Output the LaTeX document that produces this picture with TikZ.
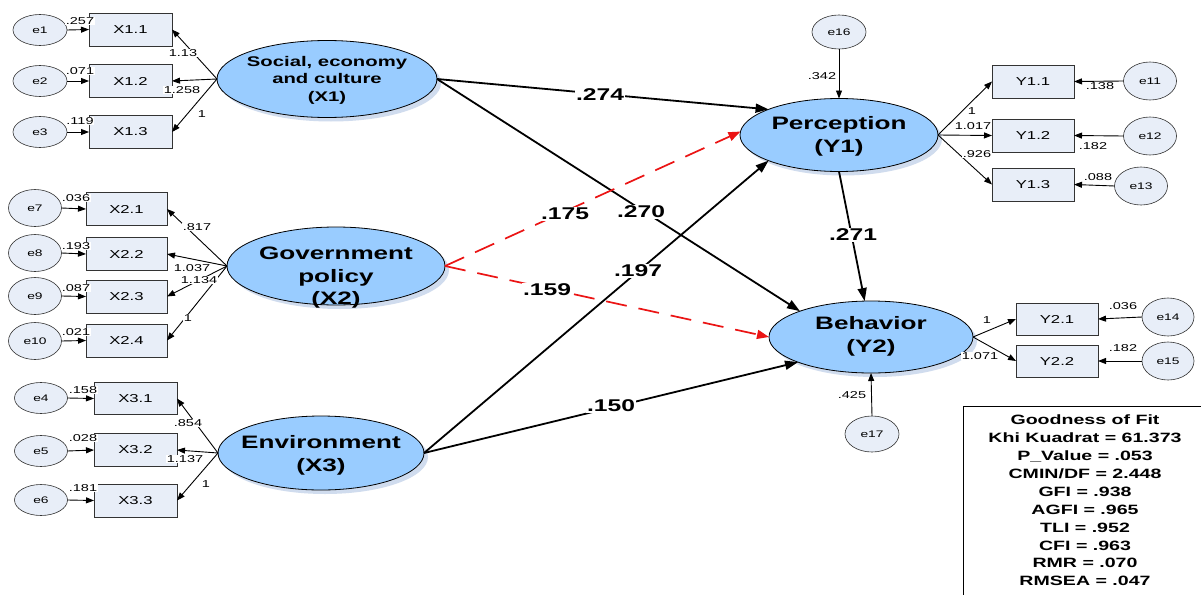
\documentclass[tikz,border=0pt]{standalone}
\usepackage{fontspec}
\setmainfont[FakeStretch=1.45]{Liberation Sans}
\usetikzlibrary{arrows.meta,shapes.geometric,shadows}
\definecolor{latfill}{RGB}{153,204,255}
\definecolor{obsfill}{RGB}{232,238,248}
\definecolor{shadowc}{RGB}{208,220,238}
\definecolor{dashred}{RGB}{235,20,20}
\tikzset{
  lat/.style={ellipse, draw=black, line width=0.8pt, fill=latfill, inner sep=0pt, outer sep=0pt,
    drop shadow={shadow xshift=4pt, shadow yshift=-4pt, fill=shadowc, opacity=1}},
  lattext/.style={align=center, inner sep=0pt, font={\fontsize{18}{23}\selectfont\bfseries}},
  obs/.style={rectangle, draw=black!80, line width=0.7pt, fill=obsfill, inner sep=0pt, outer sep=0pt,
    font={\fontsize{11.5}{13}\selectfont}},
  err/.style={ellipse, draw=black!80, line width=0.6pt, fill=obsfill, inner sep=0pt, outer sep=0pt,
    font={\fontsize{9.5}{11}\selectfont}},
  load/.style={line width=0.9pt, -{Triangle[length=8pt,width=6pt]}},
  struct/.style={line width=1.8pt, -{Triangle[length=13pt,width=9pt]}},
  dpath/.style={line width=1.7pt, draw=dashred, dash pattern=on 21pt off 12pt, -{Triangle[length=12pt,width=9pt,fill=dashred]}},
  small/.style={fill=white, inner sep=0.6pt, font={\fontsize{10}{11}\selectfont}},
  big/.style={fill=white, inner sep=1pt, font={\fontsize{17}{19}\selectfont\bfseries}},
}
\begin{document}
\begin{tikzpicture}[x=1pt,y=-1pt]
\clip (0,0) rectangle (1201,594);
\fill[white] (0,0) rectangle (1201,594);

% ---------- latent variables ----------
\node[lat, minimum width=220pt, minimum height=77pt] (X1) at (327,79) {};
\node[lattext, font={\fontsize{14}{17.5}\selectfont\bfseries}] (X1t) at (327,80) {Social, economy\\and culture\\(X1)};
\node[lat, minimum width=218pt, minimum height=78pt] (X2) at (336,266) {};
\node[lattext, font={\fontsize{18}{22.5}\selectfont\bfseries}] (X2t) at (336,278) {Government\\policy\\(X2)};
\node[lat, minimum width=206pt, minimum height=74pt] (X3) at (321,453) {};
\node[lattext] (X3t) at (321,455) {Environment\\(X3)};
\node[lat, minimum width=198pt, minimum height=73pt] (Y1) at (839,135) {};
\node[lattext] (Y1t) at (839,136) {Perception\\(Y1)};
\node[lat, minimum width=204pt, minimum height=72pt] (Y2) at (871,337) {};
\node[lattext] (Y2t) at (871,336) {Behavior\\(Y2)};

% ---------- observed variables ----------
\node[obs, minimum width=83pt, minimum height=33pt] (X11) at (130.5,29.5) {X1.1};
\node[obs, minimum width=83pt, minimum height=33pt] (X12) at (130.5,81) {X1.2};
\node[obs, minimum width=83pt, minimum height=33pt] (X13) at (130.5,132) {X1.3};
\node[obs, minimum width=81pt, minimum height=33pt] (X21) at (126.5,209) {X2.1};
\node[obs, minimum width=81pt, minimum height=33pt] (X22) at (126.5,254) {X2.2};
\node[obs, minimum width=81pt, minimum height=33pt] (X23) at (126.5,296.5) {X2.3};
\node[obs, minimum width=81pt, minimum height=33pt] (X24) at (126.5,340.5) {X2.4};
\node[obs, minimum width=83pt, minimum height=32pt] (X31) at (135.5,398.5) {X3.1};
\node[obs, minimum width=83pt, minimum height=33pt] (X32) at (135.5,450) {X3.2};
\node[obs, minimum width=83pt, minimum height=33pt] (X33) at (135.5,500.5) {X3.3};
\node[obs, minimum width=82pt, minimum height=33pt] (Y11) at (1033,81.5) {Y1.1};
\node[obs, minimum width=82pt, minimum height=33pt] (Y12) at (1033,135.5) {Y1.2};
\node[obs, minimum width=82pt, minimum height=33pt] (Y13) at (1033,184.5) {Y1.3};
\node[obs, minimum width=82pt, minimum height=32pt] (Y21) at (1057,319) {Y2.1};
\node[obs, minimum width=82pt, minimum height=32pt] (Y22) at (1057,361) {Y2.2};

% ---------- error terms ----------
\node[err, minimum width=54pt, minimum height=31pt] (e1) at (40,30) {e1};
\node[err, minimum width=54pt, minimum height=31pt] (e2) at (40,81) {e2};
\node[err, minimum width=54pt, minimum height=31pt] (e3) at (40,132) {e3};
\node[err, minimum width=53pt, minimum height=37pt] (e7) at (35,208) {e7};
\node[err, minimum width=53pt, minimum height=37pt] (e8) at (35,253) {e8};
\node[err, minimum width=53pt, minimum height=37pt] (e9) at (35,296) {e9};
\node[err, minimum width=53pt, minimum height=37pt] (e10) at (35,341) {e10};
\node[err, minimum width=53pt, minimum height=31pt] (e4) at (41,398) {e4};
\node[err, minimum width=53pt, minimum height=31pt] (e5) at (41,451) {e5};
\node[err, minimum width=53pt, minimum height=31pt] (e6) at (41,500) {e6};
\node[err, minimum width=54pt, minimum height=34pt] (e16) at (839,32) {e16};
\node[err, minimum width=53pt, minimum height=38pt] (e11) at (1150,81) {e11};
\node[err, minimum width=53pt, minimum height=38pt] (e12) at (1150,136) {e12};
\node[err, minimum width=53pt, minimum height=38pt] (e13) at (1141,186) {e13};
\node[err, minimum width=52pt, minimum height=38pt] (e14) at (1168,317) {e14};
\node[err, minimum width=52pt, minimum height=38pt] (e15) at (1168,361) {e15};
\node[err, minimum width=54pt, minimum height=36pt] (e17) at (872,434) {e17};

% ---------- error arrows ----------
\foreach \e/\b in {e1/X11,e2/X12,e3/X13,e7/X21,e8/X22,e9/X23,e10/X24,e4/X31,e5/X32,e6/X33}
  \draw[load] (\e.east) -- (\b.west);
\foreach \e/\b in {e11/Y11,e12/Y12,e13/Y13,e14/Y21,e15/Y22}
  \draw[load] (\e.west) -- (\b.east);
\draw[load] (e16.south) -- (Y1.north);
\draw[load] (e17.north) -- (Y2.south);

% ---------- loadings ----------
\foreach \b in {X11,X12,X13} \draw[load] (X1.west) -- (\b.east);
\foreach \b in {X21,X22,X23,X24} \draw[load] (X2.west) -- (\b.east);
\foreach \b in {X31,X32,X33} \draw[load] (X3.west) -- (\b.east);
\foreach \b in {Y11,Y12,Y13} \draw[load] (Y1.east) -- (\b.west);
\foreach \b in {Y21,Y22} \draw[load] (Y2.east) -- (\b.west);

% ---------- structural paths ----------
\draw[struct] (X1.east) -- (Y1.160);
\draw[struct] (X1.east) -- (Y2.160);
\draw[dpath] (X2.east) -- (Y1.178);
\draw[dpath] (X2.east) -- (Y2.west);
\draw[struct] (X3.east) -- (Y1.200);
\draw[struct] (X3.east) -- (Y2.199);
\draw[struct] (Y1.south) -- (Y2.100);

% ---------- small labels ----------
\node[small] (l1) at (80,21) {.257};
\node[small] (l2) at (80,71) {.071};
\node[small] (l3) at (80,121) {.119};
\node[small] (l4) at (183,53) {1.13};
\node[small] (l5) at (182,90) {1.258};
\node[small] (l6) at (202,114) {1};
\node[small] (l7) at (76,198) {.036};
\node[small] (l8) at (76,246) {.193};
\node[small] (l9) at (76,288) {.087};
\node[small] (l10) at (76,332) {.021};
\node[small] (l11) at (197,227) {.817};
\node[small] (l12) at (192,268) {1.037};
\node[small] (l13) at (199,280) {1.134};
\node[small] (l14) at (188,318) {1};
\node[small] (l15) at (83,390) {.158};
\node[small] (l16) at (83,438) {.028};
\node[small] (l17) at (83,488) {.181};
\node[small] (l18) at (188,423) {.854};
\node[small] (l19) at (185,459) {1.137};
\node[small] (l20) at (206,484) {1};
\node[small] (l21) at (822,76) {.342};
\node[small] (l22) at (972,111) {1};
\node[small] (l23) at (973,126) {1.017};
\node[small] (l24) at (977,154) {.926};
\node[small] (l25) at (1100,86) {.138};
\node[small] (l26) at (1093,146) {.182};
\node[small] (l27) at (1098,177) {.088};
\node[small] (l28) at (987,320) {1};
\node[small] (l29) at (980,356) {1.071};
\node[small] (l30) at (1123,306) {.036};
\node[small] (l31) at (1123,348) {.182};
\node[small] (l32) at (852,395) {.425};

% ---------- path coefficients ----------
\node[big] (p1) at (600,95) {.274};
\node[big] (p2) at (641,212) {.270};
\node[big] (p3) at (565,214) {.175};
\node[big] (p4) at (638,271) {.197};
\node[big] (p5) at (547,290) {.159};
\node[big] (p6) at (611,406) {.150};
\node[big] (p7) at (853,235) {.271};

% ---------- goodness of fit ----------
\draw[line width=0.8pt] (963,620) -- (963,406) -- (1220,406);
\node[align=center, inner sep=0pt, font={\fontsize{13.5}{17.9}\selectfont\bfseries}] (gof) at (1085,500.5)
  {Goodness of Fit\\Khi Kuadrat = 61.373\\P\_Value = .053\\CMIN/DF = 2.448\\GFI = .938\\AGFI = .965\\TLI = .952\\CFI = .963\\RMR = .070\\RMSEA = .047};
\end{tikzpicture}
\end{document}
